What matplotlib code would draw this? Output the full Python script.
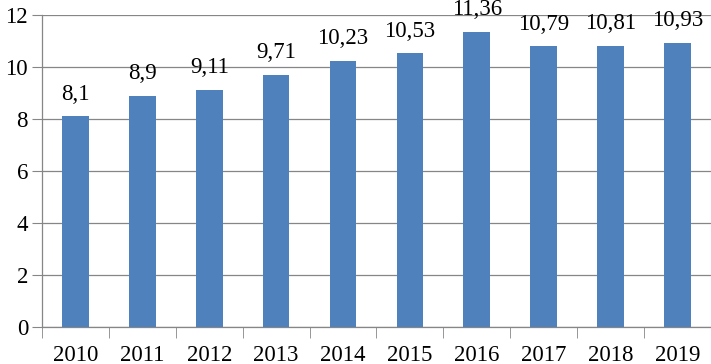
import matplotlib
matplotlib.use("Agg")
import matplotlib.pyplot as plt
import numpy as np

years = ["2010", "2011", "2012", "2013", "2014", "2015", "2016", "2017", "2018", "2019"]
values = [8.1, 8.9, 9.11, 9.71, 10.23, 10.53, 11.36, 10.79, 10.81, 10.93]
labels = ["8,1", "8,9", "9,11", "9,71", "10,23", "10,53", "11,36", "10,79", "10,81", "10,93"]

plt.rcParams["font.family"] = ["Liberation Serif", "DejaVu Serif"]

fig = plt.figure(figsize=(7.11, 3.64), dpi=100)
ax = fig.add_axes([0.059, 0.1016, 0.941, 0.8572])

x = np.arange(len(years))
ax.bar(x, values, width=0.4, color="#4F81BD", zorder=3)
for xi, v, lab in zip(x, values, labels):
    ax.text(xi, v + 0.45, lab, ha="center", va="bottom", fontsize=16.5, zorder=4)

ax.set_xlim(-0.5, len(years) - 0.5)
ax.set_ylim(0, 12)
ax.set_yticks(range(0, 13, 2))
ax.yaxis.grid(True, color="#868686", linewidth=0.9, zorder=0)
ax.set_xticks(x)
ax.set_xticklabels(years)
ax.set_xticks(np.arange(-0.5, len(years)), minor=True)
ax.tick_params(axis="x", which="major", length=0, labelsize=16.5, pad=13)
ax.tick_params(axis="x", which="minor", length=8, color="#868686", direction="out")
ax.tick_params(axis="y", length=7, color="#868686", labelsize=16.5, pad=3)

for s in ["top", "right"]:
    ax.spines[s].set_visible(False)
for s in ["left", "bottom"]:
    ax.spines[s].set_color("#868686")
    ax.spines[s].set_linewidth(0.9)

fig.savefig("out.png", dpi=100)
